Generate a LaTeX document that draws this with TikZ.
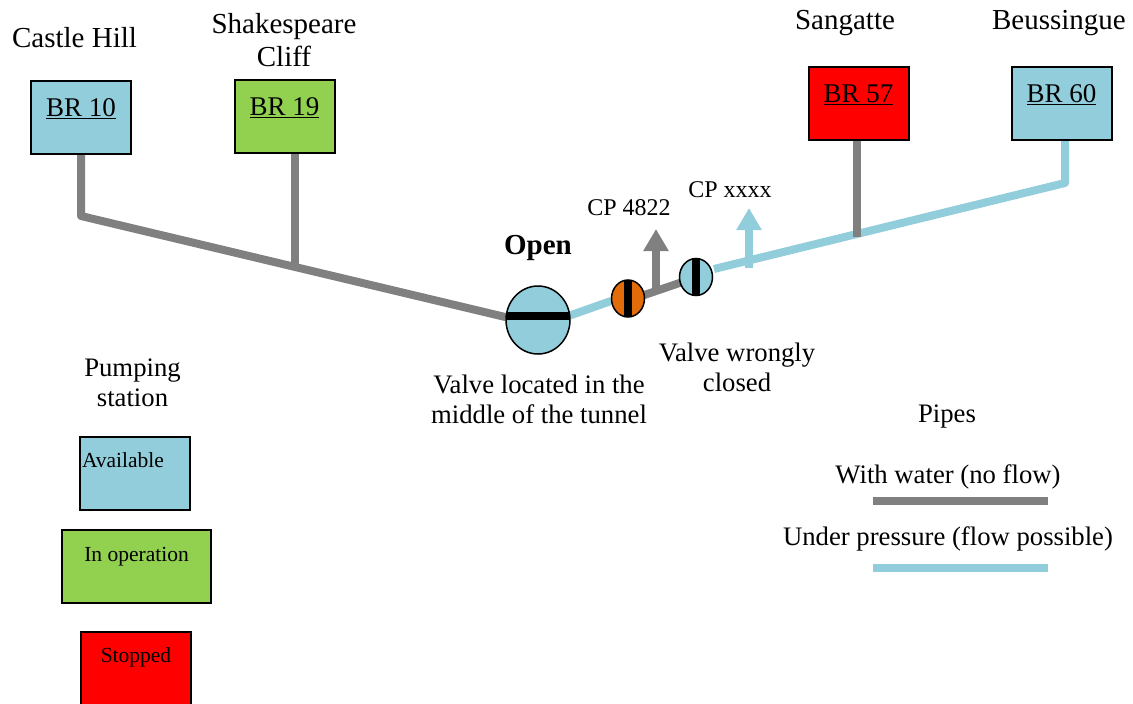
\documentclass[tikz,border=0pt]{standalone}
\usepackage{fontspec}
\setmainfont{Liberation Serif}
\usetikzlibrary{arrows.meta,shapes.geometric,backgrounds}
\definecolor{skyb}{HTML}{92CDDC}
\definecolor{grn}{HTML}{92D050}
\definecolor{pipegray}{HTML}{808080}
\definecolor{valveor}{HTML}{E36C0A}
\newcommand{\boxtxt}[2]{\raisebox{#1}[0pt][0pt]{#2}}
\tikzset{
  x=1pt,y=-1pt,
  every node/.style={inner sep=0pt,outer sep=0pt},
  station/.style={draw=black,line width=2pt,minimum width=100pt,minimum height=73pt,font=\fontsize{27}{30}\selectfont},
  legendbox/.style={draw=black,line width=2pt,minimum height=73pt,font=\fontsize{21.5}{24}\selectfont},
  big/.style={font=\fontsize{29}{33}\selectfont,align=center},
  mid/.style={font=\fontsize{26.7}{30}\selectfont,align=center},
  small/.style={font=\fontsize{24}{28}\selectfont,align=center},
  gpipe/.style={draw=pipegray,line width=8pt,line join=round},
  bpipe/.style={draw=skyb,line width=8pt,line join=round},
  valve/.style={ellipse,draw=black,line width=1.5pt,fill=skyb},
  slot/.style={draw=black,line width=8pt},
  gup/.style={draw=pipegray,line width=8pt,-{Triangle[length=22pt,width=24pt]}},
  bup/.style={draw=skyb,line width=8pt,-{Triangle[length=22pt,width=24pt]}},
}
\begin{document}
\begin{tikzpicture}
\useasboundingbox (0,0) rectangle (1133,704);
% stations
\node[station,fill=skyb] (br10) at (81,117) {\boxtxt{0.5pt}{\underline{BR 10}}};
\node[station,fill=grn] (br19) at (284.5,116) {\boxtxt{0.5pt}{\underline{BR 19}}};
\node[station,fill=red] (br57) at (858.5,103.5) {\boxtxt{1pt}{\underline{BR 57}}};
\node[station,fill=skyb] (br60) at (1061.5,103.5) {\boxtxt{1pt}{\underline{BR 60}}};
% valves
\node[valve,minimum width=64pt,minimum height=68pt] (vopen) at (538,320) {};
\node[valve,fill=valveor,minimum width=33pt,minimum height=37pt] (vorange) at (628,298.5) {};
\node[valve,minimum width=33pt,minimum height=37pt] (vblue) at (696,277) {};
% junction and bend coordinates
\coordinate (c10) at (81,216);
\coordinate (j19) at (295,265);
\coordinate (j19t) at (295,153);
\coordinate (t4822) at (656,229);
\coordinate (b4822) at (656,291);
\coordinate (txxxx) at (749,208);
\coordinate (bxxxx) at (749,268);
\coordinate (e60) at (1065,183);
\coordinate (t60) at (1065,140);
\coordinate (s57) at (714,269);
\coordinate (t57) at (857,140);
\coordinate (j57) at (857,237);
% pipes
\begin{scope}[on background layer]
\draw[gpipe] (br10.south -| c10) -- (c10) -- (vopen.175);
\draw[gpipe] (j19t) -- (j19);
\draw[bpipe] (vopen.8) -- (vorange.188);
\draw[gpipe] (vorange.12) -- (vblue.200);
\draw[gup] (b4822) -- (t4822);
\draw[bup] (bxxxx) -- (txxxx);
\draw[bpipe] (s57) -- (e60) -- (t60);
\draw[gpipe] (t57) -- (j57);
\end{scope}
% slots
\draw[slot] (vopen.173) -- (vopen.7);
\draw[slot] (vorange.north) -- (vorange.south);
\draw[slot] (vblue.north) -- (vblue.south);
% labels
\node[big] (castle) at (74.5,38) {Castle Hill};
\node[big] (shake) at (284,40) {Shakespeare\\Cliff};
\node[big] (sang) at (845,23) {Sangatte};
\node[big] (beus) at (1059,23) {Beussingue};
\node[big] (open) at (538,248) {\bfseries Open};
\node[small] (cp4822) at (629,208) {CP 4822};
\node[small] (cpxxxx) at (730,190) {CP xxxx};
\node[mid] (vmid) at (539,399) {Valve located in the\\middle of the tunnel};
\node[mid] (vwrong) at (737,367) {Valve wrongly\\closed};
\node[mid] (pump) at (132.5,383) {Pumping\\station};
\node[mid] (pipes) at (947,416) {Pipes};
% legend
\node[legendbox,fill=skyb,minimum width=110pt] (lavail) at (135,473.5) {\boxtxt{6pt}{\hspace*{-24pt}Available}};
\node[legendbox,fill=grn,minimum width=149pt] (loper) at (136.5,566.5) {\boxtxt{5pt}{In operation}};
\node[legendbox,fill=red,minimum width=110pt] (lstop) at (136,668.5) {\boxtxt{6pt}{Stopped}};
\node[mid] (lwater) at (948,477) {With water (no flow)};
\node[mid] (lpress) at (948,539) {Under pressure (flow possible)};
\coordinate (g1) at (873,501);
\coordinate (g2) at (1048,501);
\coordinate (b1) at (873,568);
\coordinate (b2) at (1048,568);
\draw[gpipe] (g1) -- (g2);
\draw[bpipe] (b1) -- (b2);
\end{tikzpicture}
\end{document}
